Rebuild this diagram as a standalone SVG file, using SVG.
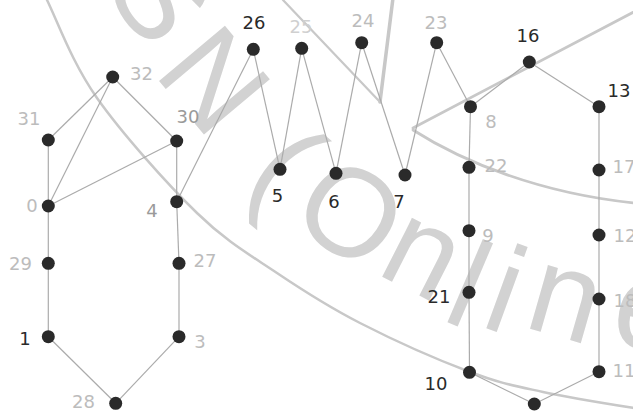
<svg xmlns="http://www.w3.org/2000/svg" width="633" height="412" viewBox="0 0 633 412">
<style>
.wm{fill:#d2d2d2;font-family:"Liberation Sans",Arial,sans-serif;font-size:125px;text-anchor:middle}
.wl{fill:none;stroke:#c8c8c8;stroke-linecap:round}
.e{stroke:#ababab;stroke-width:1.2;fill:none}
.node circle{fill:#2a2a2a}
.node text{font-family:"DejaVu Sans",sans-serif;font-size:18px;text-anchor:middle}
.d{fill:#2a2a2a}.m{fill:#9a9a9a}.l{fill:#bcbcbc}.vl{fill:#d0d0d0}
</style>
<rect width="633" height="412" fill="#ffffff"/>
<g id="watermark">
<path class="wl" stroke-width="2.5" d="M47,0 C58.2,23 72,62.5 97,98 C122,133.5 167,183.8 197,213 C227,242.2 249.8,254.7 277,273 C304.2,291.3 327.8,306.5 360,323 C392.2,339.5 439.5,360.5 470,372 C500.5,383.5 515.8,386 543,392 C570.2,398 606.8,403.7 640,409"/>
<path class="wl" stroke-width="2.8" d="M413,128 L645,6"/>
<path class="wl" stroke-width="2.8" d="M413,130 C460,160 540,195 645,204"/>
<path class="wl" stroke-width="2.2" d="M283,0 L380,102"/>
<path class="wl" stroke-width="3.5" d="M393,-2 L380,102"/>
<text class="wm" transform="translate(162,-7) rotate(55)" y="45">S</text>
<text class="wm" transform="translate(216,79) rotate(50)" y="45">N</text>
<text class="wm" transform="translate(279,173) rotate(40)" y="32">(</text>
<text class="wm" transform="translate(352,211) rotate(34)" y="45">O</text>
<text class="wm" transform="translate(420,260) rotate(27)" y="32">n</text>
<text class="wm" transform="translate(470,283) rotate(23)" y="45">l</text>
<text class="wm" transform="translate(507,288) rotate(20)" y="45">i</text>
<text class="wm" transform="translate(564,305) rotate(16)" y="32">n</text>
<text class="wm" transform="translate(648,318) rotate(10)" y="32">e</text>
</g>
<g id="connectors">
<line class="e" x1="112.7" y1="77" x2="48.3" y2="140"/>
<line class="e" x1="112.7" y1="77" x2="48.3" y2="206"/>
<line class="e" x1="112.7" y1="77" x2="176.7" y2="141"/>
<line class="e" x1="48.3" y1="140" x2="48.3" y2="206"/>
<line class="e" x1="48.3" y1="206" x2="176.7" y2="141"/>
<line class="e" x1="176.7" y1="141" x2="176.7" y2="201.7"/>
<line class="e" x1="176.7" y1="201.7" x2="253.3" y2="49.3"/>
<line class="e" x1="48.3" y1="206" x2="48.3" y2="263.3"/>
<line class="e" x1="48.3" y1="263.3" x2="48.3" y2="336.7"/>
<line class="e" x1="48.3" y1="336.7" x2="115.7" y2="403.3"/>
<line class="e" x1="115.7" y1="403.3" x2="179" y2="336.7"/>
<line class="e" x1="179" y1="336.7" x2="179" y2="263.3"/>
<line class="e" x1="179" y1="263.3" x2="176.7" y2="201.7"/>
<line class="e" x1="253.3" y1="49.3" x2="280" y2="169.3"/>
<line class="e" x1="301.7" y1="48.3" x2="280" y2="169.3"/>
<line class="e" x1="301.7" y1="48.3" x2="336" y2="173.3"/>
<line class="e" x1="361.7" y1="42.7" x2="336" y2="173.3"/>
<line class="e" x1="361.7" y1="42.7" x2="405" y2="175"/>
<line class="e" x1="436.7" y1="42.7" x2="405" y2="175"/>
<line class="e" x1="436.7" y1="42.7" x2="470.5" y2="106.7"/>
<line class="e" x1="470.5" y1="106.7" x2="529.3" y2="62"/>
<line class="e" x1="529.3" y1="62" x2="599" y2="106.7"/>
<line class="e" x1="470.5" y1="106.7" x2="469" y2="167.3"/>
<line class="e" x1="469" y1="167.3" x2="469" y2="230.7"/>
<line class="e" x1="469" y1="230.7" x2="469" y2="292.3"/>
<line class="e" x1="469" y1="292.3" x2="469.5" y2="372.3"/>
<line class="e" x1="469.5" y1="372.3" x2="534.3" y2="404"/>
<line class="e" x1="534.3" y1="404" x2="599" y2="371.7"/>
<line class="e" x1="599" y1="371.7" x2="599" y2="299"/>
<line class="e" x1="599" y1="299" x2="599" y2="235"/>
<line class="e" x1="599" y1="235" x2="599" y2="170"/>
<line class="e" x1="599" y1="170" x2="599" y2="106.7"/>
</g>
<g id="n32" class="node"><circle cx="112.7" cy="77" r="6.5"/><text class="l" x="141.5" y="80">32</text></g>
<g id="n31" class="node"><circle cx="48.3" cy="140" r="6.5"/><text class="l" x="29" y="125">31</text></g>
<g id="n30" class="node"><circle cx="176.7" cy="141" r="6.5"/><text class="m" x="188" y="123">30</text></g>
<g id="n0" class="node"><circle cx="48.3" cy="206" r="6.5"/><text class="l" x="32" y="212">0</text></g>
<g id="n4" class="node"><circle cx="176.7" cy="201.7" r="6.5"/><text class="m" x="152" y="217">4</text></g>
<g id="n29" class="node"><circle cx="48.3" cy="263.3" r="6.5"/><text class="l" x="20.5" y="270">29</text></g>
<g id="n27" class="node"><circle cx="179" cy="263.3" r="6.5"/><text class="l" x="205" y="267">27</text></g>
<g id="n1" class="node"><circle cx="48.3" cy="336.7" r="6.5"/><text class="d" x="25" y="345">1</text></g>
<g id="n3" class="node"><circle cx="179" cy="336.7" r="6.5"/><text class="l" x="200" y="348">3</text></g>
<g id="n28" class="node"><circle cx="115.7" cy="403.3" r="6.5"/><text class="l" x="83.5" y="408">28</text></g>
<g id="n26" class="node"><circle cx="253.3" cy="49.3" r="6.5"/><text class="d" x="254" y="29">26</text></g>
<g id="n25" class="node"><circle cx="301.7" cy="48.3" r="6.5"/><text class="vl" x="301" y="33">25</text></g>
<g id="n24" class="node"><circle cx="361.7" cy="42.7" r="6.5"/><text class="l" x="363" y="27">24</text></g>
<g id="n23" class="node"><circle cx="436.7" cy="42.7" r="6.5"/><text class="l" x="436" y="29">23</text></g>
<g id="n5" class="node"><circle cx="280" cy="169.3" r="6.5"/><text class="d" x="277.5" y="202">5</text></g>
<g id="n6" class="node"><circle cx="336" cy="173.3" r="6.5"/><text class="d" x="334" y="208">6</text></g>
<g id="n7" class="node"><circle cx="405" cy="175" r="6.5"/><text class="d" x="399" y="208">7</text></g>
<g id="n16" class="node"><circle cx="529.3" cy="62" r="6.5"/><text class="d" x="528" y="42">16</text></g>
<g id="n8" class="node"><circle cx="470.5" cy="106.7" r="6.5"/><text class="l" x="491" y="128">8</text></g>
<g id="n13" class="node"><circle cx="599" cy="106.7" r="6.5"/><text class="d" x="619" y="97">13</text></g>
<g id="n22" class="node"><circle cx="469" cy="167.3" r="6.5"/><text class="l" x="496" y="172">22</text></g>
<g id="n17" class="node"><circle cx="599" cy="170" r="6.5"/><text class="l" x="624" y="173">17</text></g>
<g id="n9" class="node"><circle cx="469" cy="230.7" r="6.5"/><text class="l" x="488" y="242">9</text></g>
<g id="n12" class="node"><circle cx="599" cy="235" r="6.5"/><text class="l" x="625" y="242">12</text></g>
<g id="n21" class="node"><circle cx="469" cy="292.3" r="6.5"/><text class="d" x="439" y="303">21</text></g>
<g id="n18" class="node"><circle cx="599" cy="299" r="6.5"/><text class="l" x="625" y="307">18</text></g>
<g id="n10" class="node"><circle cx="469.5" cy="372.3" r="6.5"/><text class="d" x="436" y="390">10</text></g>
<g id="n11" class="node"><circle cx="599" cy="371.7" r="6.5"/><text class="l" x="624" y="377">11</text></g>
<g id="n19" class="node"><circle cx="534.3" cy="404" r="6.5"/></g>
</svg>
